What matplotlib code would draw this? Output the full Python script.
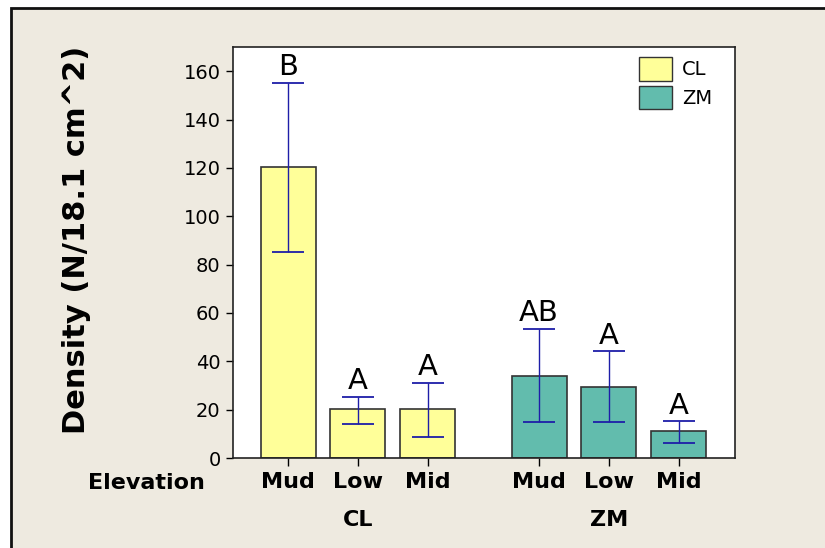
import matplotlib
matplotlib.use("Agg")
from matplotlib import pyplot as plt
from matplotlib.patches import Patch
from matplotlib.transforms import blended_transform_factory
import numpy as np

# data
groups = ["CL", "ZM"]
elevations = ["Mud", "Low", "Mid"]
cl_mean = [120.4, 20.2, 20.2]
cl_low = [85.3, 14.0, 8.8]
cl_high = [155.2, 25.3, 31.1]
zm_mean = [34.1, 29.5, 11.3]
zm_low = [14.7, 14.7, 6.4]
zm_high = [53.5, 44.2, 15.2]
cl_letters = ["B", "A", "A"]
zm_letters = ["AB", "A", "A"]

bg = "#EEEAE0"
cl_color = "#FFFF99"
zm_color = "#62BCAD"
err_color = "#1E1EA8"

fig = plt.figure(figsize=(8.25, 5.48), dpi=100, facecolor="white")
# beige panel with dark top/left border
panel = plt.Rectangle((11 / 825, -0.01), 1, 1.01 - 8 / 548, transform=fig.transFigure,
                      facecolor=bg, edgecolor="#111111", linewidth=2, zorder=-1)
fig.add_artist(panel)
ax = fig.add_axes([233 / 825, 1 - 458 / 548, 502 / 825, 411 / 548])

gap = 1.6
x_cl = np.arange(3)
x_zm = np.arange(3) + 2 + gap
width = 0.79

def draw_group(x, mean, low, high, color, letters):
    mean = np.array(mean)
    yerr = [mean - np.array(low), np.array(high) - mean]
    ax.bar(x, mean, width=width, color=color, edgecolor="#333333", linewidth=1.2, zorder=2)
    ax.errorbar(x, mean, yerr=yerr, fmt="none", ecolor=err_color, elinewidth=1,
                capsize=11.5, capthick=1.3, zorder=3)
    for xi, hi, lab in zip(x, high, letters):
        ax.annotate(lab, (xi, hi), xytext=(0, 1), textcoords="offset points",
                    ha="center", va="bottom", fontsize=21, color="black")

draw_group(x_cl, cl_mean, cl_low, cl_high, cl_color, cl_letters)
draw_group(x_zm, zm_mean, zm_low, zm_high, zm_color, zm_letters)

ax.set_xlim(-0.79, x_zm[-1] + 0.81)
ax.set_ylim(0, 170)
ax.set_yticks(np.arange(0, 161, 20))
ax.tick_params(axis="y", labelsize=14, length=5, width=1, pad=4)
ax.set_xticks(np.concatenate([x_cl, x_zm]), labels=elevations * 2)
ax.tick_params(axis="x", labelsize=16, length=6, width=1, pad=4)
for t in ax.get_xticklabels():
    t.set_fontweight("bold")
for s in ax.spines.values():
    s.set_linewidth(1.2)
    s.set_color("#222222")

trans = blended_transform_factory(ax.transData, fig.transFigure)
ax.text(x_cl[1], 1 - 520 / 548, groups[0], transform=trans, ha="center", va="center",
        fontsize=16, fontweight="bold")
ax.text(x_zm[1], 1 - 520 / 548, groups[1], transform=trans, ha="center", va="center",
        fontsize=16, fontweight="bold")
fig.text(146 / 825, 1 - 483 / 548, "Elevation", ha="center", va="center",
         fontsize=16, fontweight="bold")

fig.text(77 / 825, 1 - 240 / 548, "Density (N/18.1 cm^2)", rotation=90, ha="center",
         va="center", fontsize=22, fontweight="bold")

handles = [Patch(facecolor=cl_color, edgecolor="#333333", label="CL"),
           Patch(facecolor=zm_color, edgecolor="#333333", label="ZM")]
ax.legend(handles=handles, loc="upper right", bbox_to_anchor=(0.984, 1.01), frameon=False,
          fontsize=14, handlelength=1.65, handleheight=1.45, handletextpad=0.55,
          labelspacing=0.3, borderaxespad=0.25, borderpad=0.5)

fig.savefig("out.png", dpi=100, facecolor=fig.get_facecolor())
